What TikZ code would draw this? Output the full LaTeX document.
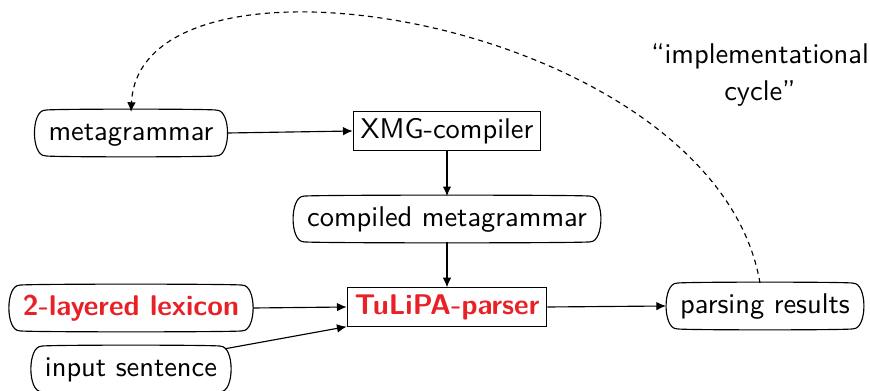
\documentclass[tikz,border=0pt]{standalone}
\usetikzlibrary{arrows.meta}
\definecolor{hlred}{RGB}{232,33,39}
\begin{document}
\begin{tikzpicture}[x=0.3509pt,y=-0.3509pt,
  font=\sffamily,
  every node/.style={text height=7pt,text depth=2pt},
  rbox/.style={rectangle,inner xsep=1pt,inner ysep=3.3pt},
  sbox/.style={draw,rectangle,inner xsep=2.6pt,inner ysep=2.2pt},
  hl/.style={text=hlred,font=\sffamily\bfseries},
  arr/.style={-{Latex[length=3.4pt,width=3pt]}},
  cyc/.style={dash pattern=on 1.8pt off 1.5pt}]
\useasboundingbox (0,0) rectangle (870,391);
\node[rbox] (meta) at (131,133) {metagrammar};
\node[sbox] (xmg) at (447,131) {XMG-compiler};
\node[rbox] (comp) at (447,219) {compiled metagrammar};
\node[sbox,hl] (tul) at (447,307) {TuLiPA-parser};
\node[rbox,hl] (lex) at (131,308) {2-layered lexicon};
\node[rbox] (inp) at (131,369) {input sentence};
\node[rbox] (par) at (765,306) {parsing results};
\node[align=center,text height=,text depth=] (cyctext) at (760,75) {``implementational\\[1.3pt]cycle''};
\foreach \n in {meta,comp,lex,inp,par}
  \draw (\n.north west) .. controls +(0,0.5pt) and +(0,0.5pt) .. (\n.north east)
     .. controls +(5pt,0) and +(5pt,0) .. (\n.south east)
     .. controls +(0,-0.5pt) and +(0,-0.5pt) .. (\n.south west)
     .. controls +(-5pt,0) and +(-5pt,0) .. cycle;
\draw[arr] ([xshift=3.75pt]meta.east) -- (xmg.west);
\draw[arr] (xmg.south) -- (comp.north);
\draw[arr] (comp.south) -- (tul.north);
\draw[arr] ([xshift=3.75pt]lex.east) -- (tul.west);
\draw[arr] ([xshift=1.6pt,yshift=-0.9pt]inp.north east) -- (tul.south west);
\draw[arr] (tul.east) -- ([xshift=-3.75pt]par.west);
\coordinate (cstart) at (760,283);
\coordinate (cend) at (131,112);
\draw[arr,cyc] (cstart) .. controls (715,20) and (140,-75) .. (cend);
\end{tikzpicture}
\end{document}
